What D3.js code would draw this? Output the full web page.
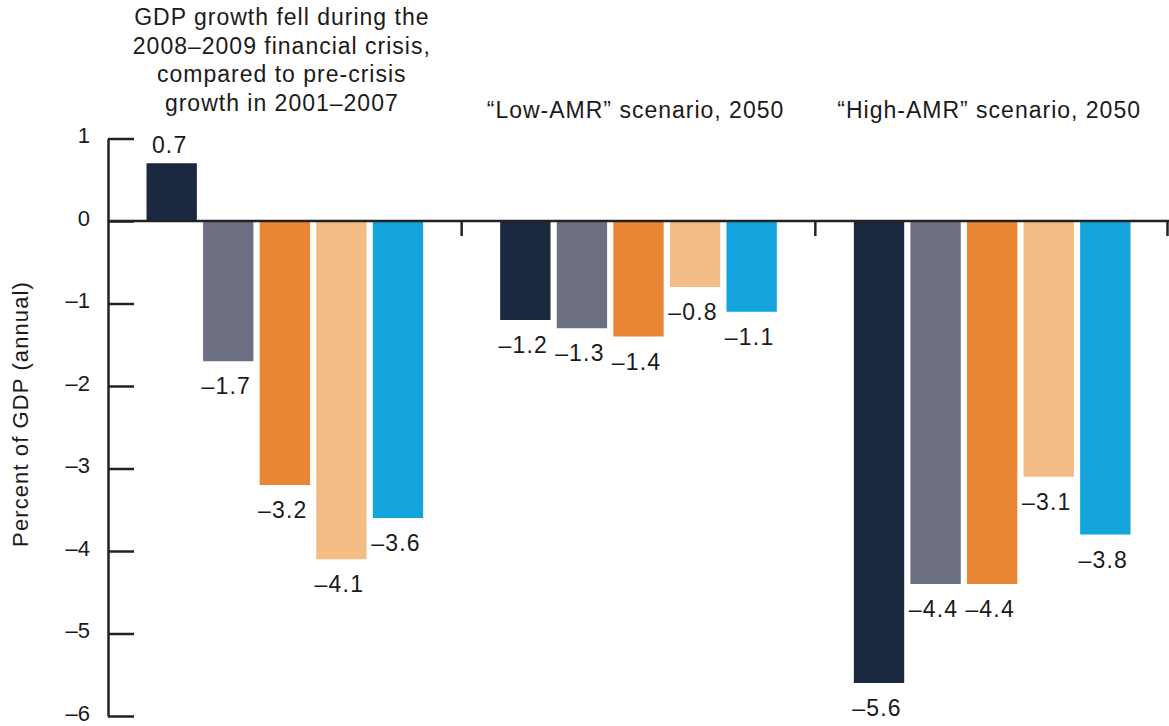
<!DOCTYPE html>
<html>
<head>
<meta charset="utf-8">
<script src="https://cdn.jsdelivr.net/npm/d3@7"></script>
<style>
  html, body { margin: 0; padding: 0; background: #fff; }
  svg { display: block; font-family: "Liberation Sans", Arial, Helvetica, sans-serif; }
</style>
</head>
<body>
<svg id="chart" width="1169" height="726"></svg>
<script>
// Panels of the chart
const groups = ["crisis", "low", "high"];
const groupTitles = [
  ["GDP growth fell during the", "2008–2009 financial crisis,", "compared to pre-crisis", "growth in 2001–2007"],
  ["“Low-AMR” scenario, 2050"],
  ["“High-AMR” scenario, 2050"]
];

// Five bars per panel
const series = ["s1", "s2", "s3", "s4", "s5"];
const seriesColors = ["#1a2940", "#6d6f82", "#e88634", "#f4bd86", "#12a4da"];

// Change in GDP growth (percent, annual)
const crisisValues = [0.7, -1.7, -3.2, -4.1, -3.6];
const lowValues = [-1.2, -1.3, -1.4, -0.8, -1.1];
const highValues = [-5.6, -4.4, -4.4, -3.1, -3.8];

const yTicks = [1, 0, -1, -2, -3, -4, -5, -6];
const yTitle = "Percent of GDP (annual)";

const valuesByGroup = [crisisValues, lowValues, highValues];
const rows = [];
groups.forEach((g, gi) => {
  series.forEach((s, si) => rows.push({ group: g, series: s, value: valuesByGroup[gi][si], color: seriesColors[si] }));
});

const svg = d3.select("#chart");
const ink = "#222";
const textInk = "#1a1a1a";
const fmt = v => (v < 0 ? "–" + Math.abs(v) : String(v));

const y = d3.scaleLinear().domain([-6, 1]).range([716, 138.5]);
const x0 = d3.scaleBand().domain(groups).range([108, 1169]).padding(0);
const inset = 38.5;
const x1 = d3.scaleBand().domain(series)
  .range([inset, x0.bandwidth() - inset])
  .paddingInner(0.11).paddingOuter(0);

// Bars
svg.append("g").selectAll("rect")
  .data(rows)
  .join("rect")
  .attr("x", d => x0(d.group) + x1(d.series))
  .attr("width", x1.bandwidth())
  .attr("y", d => y(Math.max(0, d.value)))
  .attr("height", d => Math.abs(y(d.value) - y(0)))
  .attr("fill", d => d.color);

// Value labels
svg.append("g").selectAll("text")
  .data(rows)
  .join("text")
  .attr("x", d => x0(d.group) + x1(d.series) + x1.bandwidth() / 2 - 2)
  .attr("y", d => d.value >= 0 ? y(d.value) - 10 : y(d.value) + 33)
  .attr("text-anchor", "middle")
  .attr("font-size", 23)
  .attr("letter-spacing", 1.2)
  .attr("fill", textInk)
  .text(d => fmt(d.value));

// Y axis with ticks pointing into the plot
const yAxis = d3.axisLeft(y)
  .tickValues(yTicks)
  .tickSize(-26)
  .tickSizeOuter(0)
  .tickPadding(18)
  .tickFormat(fmt);

const ga = svg.append("g").attr("transform", "translate(108,0)").call(yAxis);
ga.select(".domain").attr("stroke", ink).attr("stroke-width", 2.5);
ga.selectAll(".tick line").attr("stroke", ink).attr("stroke-width", 2.5);
ga.selectAll(".tick text")
  .attr("font-size", 22)
  .attr("font-family", "Liberation Sans, Arial, sans-serif")
  .attr("fill", textInk)
  .attr("dy", "0.2em");

// Zero baseline across all panels
svg.append("line")
  .attr("x1", 108).attr("x2", 1169)
  .attr("y1", y(0)).attr("y2", y(0))
  .attr("stroke", ink).attr("stroke-width", 2.5);

// Panel separators hanging from the baseline
svg.append("g").selectAll("line")
  .data(groups.slice(1).map(g => x0(g)).concat([1167.5]))
  .join("line")
  .attr("x1", d => d).attr("x2", d => d)
  .attr("y1", y(0)).attr("y2", y(0) + 15)
  .attr("stroke", ink).attr("stroke-width", 2.5);

// Panel titles
groups.forEach((g, gi) => {
  const lines = groupTitles[gi];
  const cx = x0(g) + x0.bandwidth() / 2 - 3;
  const lastBaseline = gi === 0 ? 111 : 118;
  const t = svg.append("text")
    .attr("text-anchor", "middle")
    .attr("font-size", 23)
    .attr("letter-spacing", 1)
    .attr("fill", textInk);
  lines.forEach((line, li) => {
    t.append("tspan")
      .attr("x", cx)
      .attr("y", lastBaseline - (lines.length - 1 - li) * 28.7)
      .text(line);
  });
});

// Y axis title
svg.append("text")
  .attr("transform", "translate(28,414) rotate(-90)")
  .attr("text-anchor", "middle")
  .attr("font-size", 22)
  .attr("letter-spacing", 1.1)
  .attr("fill", textInk)
  .text(yTitle);
</script>
</body>
</html>
